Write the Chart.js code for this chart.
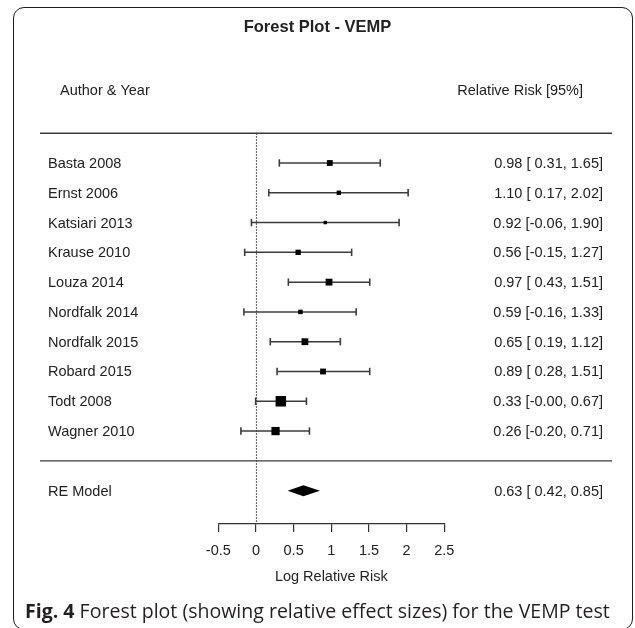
<!DOCTYPE html>
<html><head><meta charset="utf-8">
<script src="https://cdn.jsdelivr.net/npm/chart.js@4.4.1/dist/chart.umd.min.js"></script>
<style>
html,body{margin:0;padding:0;background:#fff;}
#wrap{position:relative;width:635px;height:628px;overflow:hidden;}
#c{position:absolute;left:0;top:0;}
#frame{position:absolute;left:13px;top:7px;width:620px;height:623px;border:1.8px solid #1e1e1e;border-radius:11px;box-sizing:border-box;}
#cap{position:absolute;left:25px;top:610px;transform:translateY(-50%);font-family:"Open Sans";font-size:19px;color:#231f20;white-space:nowrap;}
#cap b{font-weight:700;}
</style></head>
<body><div id="wrap"><canvas id="c" width="635" height="628"></canvas><div id="frame"></div><div id="cap"><b>Fig. 4</b> Forest plot (showing relative effect sizes) for the VEMP test</div></div>
<script>
// ---- data ----
const studies = ["Basta 2008","Ernst 2006","Katsiari 2013","Krause 2010","Louza 2014","Nordfalk 2014","Nordfalk 2015","Robard 2015","Todt 2008","Wagner 2010"];
const estimates = [0.98, 1.10, 0.92, 0.56, 0.97, 0.59, 0.65, 0.89, 0.33, 0.26];
const lowerCI  = [0.31, 0.17, -0.06, -0.15, 0.43, -0.16, 0.19, 0.28, -0.004, -0.20];
const upperCI  = [1.65, 2.02, 1.90, 1.27, 1.51, 1.33, 1.12, 1.51, 0.67, 0.71];
const weights  = [9.2, 5.9, 3.6, 8.1, 11.5, 6.2, 11.5, 9.2, 20.0, 14.8];
const reLabel = "RE Model";
const reEstimate = 0.63, reLower = 0.42, reUpper = 0.85;
const xTicks = [-0.5, 0, 0.5, 1, 1.5, 2, 2.5];
const refValue = 0;
const chartTitle = "Forest Plot - VEMP";
const headLeft = "Author & Year", headRight = "Relative Risk [95%]";
const xTitle = "Log Relative Risk";

// ---- caption sizing (fit the reference's measured text width) ----
(function () {
  const m = document.createElement('canvas').getContext('2d');
  m.font = 'bold 100px "Open Sans"';
  let w = m.measureText('Fig. 4').width;
  m.font = '100px "Open Sans"';
  w += m.measureText(' Forest plot (showing relative effect sizes) for the VEMP test').width;
  const sz = Math.max(14, Math.min(24, 100 * 585 / w));
  document.getElementById('cap').style.fontSize = sz.toFixed(2) + 'px';
})();

// ---- layout helpers (rows) ----
const k = studies.length;
const rows = studies.map((_, i) => k - i);   // top study at row k
const reRow = -1, topRow = k + 1, sepRow = 0, headRow = k + 2.4;
const FONT = '"Liberation Sans", Arial, sans-serif';
const TXT = '#222';
const BAR = '#3c3c3c';

const wMin = Math.min(...weights), wMax = Math.max(...weights);
const sideOf = w => 3.4 + (w - wMin) / (wMax - wMin) * 7.1;
const radii = weights.map(w => sideOf(w) / (2 * Math.SQRT1_2));

const fmtCI = (e, l, u) => e.toFixed(2) + ' [' + l.toFixed(2).padStart(5, ' ') + ', ' + u.toFixed(2) + ']';

const datasets = [];
datasets.push({
  label: 'estimates', order: 0,
  data: estimates.map((e, i) => ({x: e, y: rows[i]})),
  pointStyle: 'rect', pointRadius: radii, pointBackgroundColor: '#000', pointBorderWidth: 0,
  showLine: false, clip: false
});
studies.forEach((s, i) => {
  datasets.push({
    label: s, order: 1,
    data: [{x: lowerCI[i], y: rows[i]}, {x: upperCI[i], y: rows[i]}],
    showLine: true, borderColor: BAR, borderWidth: 1.5,
    pointStyle: 'line', pointRotation: 90, pointRadius: 3.7,
    pointBorderColor: BAR, pointBorderWidth: 1.6, clip: false
  });
});

const decor = {
  id: 'forestDecor',
  beforeDatasetsDraw(chart) {
    const {ctx, scales: {x, y}} = chart;
    ctx.save();
    const x0 = Math.round(x.getPixelForValue(refValue)) + 0.5;
    ctx.strokeStyle = '#404040'; ctx.lineWidth = 1.2; ctx.setLineDash([1.5, 1.5]);
    ctx.beginPath(); ctx.moveTo(x0, y.getPixelForValue(topRow)); ctx.lineTo(x0, y.getPixelForValue(y.min)); ctx.stroke();
    ctx.setLineDash([]);
    ctx.strokeStyle = '#3a3a3a'; ctx.lineWidth = 1.4;
    [topRow, sepRow].forEach(r => {
      const py = y.getPixelForValue(r);
      ctx.beginPath(); ctx.moveTo(40, py); ctx.lineTo(612, py); ctx.stroke();
    });
    ctx.restore();
  },
  afterDatasetsDraw(chart) {
    const {ctx, scales: {x, y}} = chart;
    ctx.save();
    // summary diamond
    const yr = y.getPixelForValue(reRow);
    ctx.fillStyle = '#000';
    ctx.beginPath();
    ctx.moveTo(x.getPixelForValue(reLower), yr);
    ctx.lineTo(x.getPixelForValue(reEstimate), yr - 5.5);
    ctx.lineTo(x.getPixelForValue(reUpper), yr);
    ctx.lineTo(x.getPixelForValue(reEstimate), yr + 5.5);
    ctx.closePath(); ctx.fill();
    // texts
    ctx.fillStyle = TXT;
    ctx.textBaseline = 'middle';
    ctx.font = 'bold 16.5px ' + FONT;
    ctx.textAlign = 'center';
    ctx.fillText(chartTitle, 317.5, 27);
    ctx.font = '14.5px ' + FONT;
    const yh = y.getPixelForValue(headRow);
    ctx.textAlign = 'left'; ctx.fillText(headLeft, 60, yh);
    ctx.textAlign = 'right'; ctx.fillText(headRight, 583, yh);
    studies.forEach((s, i) => {
      const py = y.getPixelForValue(rows[i]) + 1;
      ctx.textAlign = 'left'; ctx.fillText(s, 48, py);
      ctx.textAlign = 'right'; ctx.fillText(fmtCI(estimates[i], lowerCI[i], upperCI[i]), 603, py);
    });
    ctx.textAlign = 'left'; ctx.fillText(reLabel, 48, yr + 1);
    ctx.textAlign = 'right'; ctx.fillText(fmtCI(reEstimate, reLower, reUpper), 603, yr + 1);
    ctx.restore();
  }
};

new Chart(document.getElementById('c'), {
  type: 'scatter',
  data: {datasets},
  options: {
    responsive: false, animation: false, devicePixelRatio: 1,
    layout: {padding: {left: 218.3, right: 190.7, top: 133.2, bottom: 0}},
    plugins: {legend: {display: false}, tooltip: {enabled: false}, title: {display: false}},
    scales: {
      x: {
        type: 'linear', min: xTicks[0], max: xTicks[xTicks.length - 1],
        afterBuildTicks: s => { s.ticks = xTicks.map(v => ({value: v})); },
        ticks: {color: TXT, font: {family: FONT, size: 14.5}, padding: 10, maxRotation: 0, autoSkip: false, callback: v => String(v)},
        grid: {drawOnChartArea: false, drawTicks: true, tickLength: 8, color: '#333', lineWidth: 1.2},
        border: {display: true, color: '#333', width: 1.2},
        title: {display: true, text: xTitle, color: TXT, font: {family: FONT, size: 14.5}, padding: {top: 0, bottom: 42}},
        afterFit: s => { s.height = 104; }
      },
      y: {type: 'linear', display: false, min: -2.12, max: topRow}
    }
  },
  plugins: [decor]
});
</script>
</body></html>
